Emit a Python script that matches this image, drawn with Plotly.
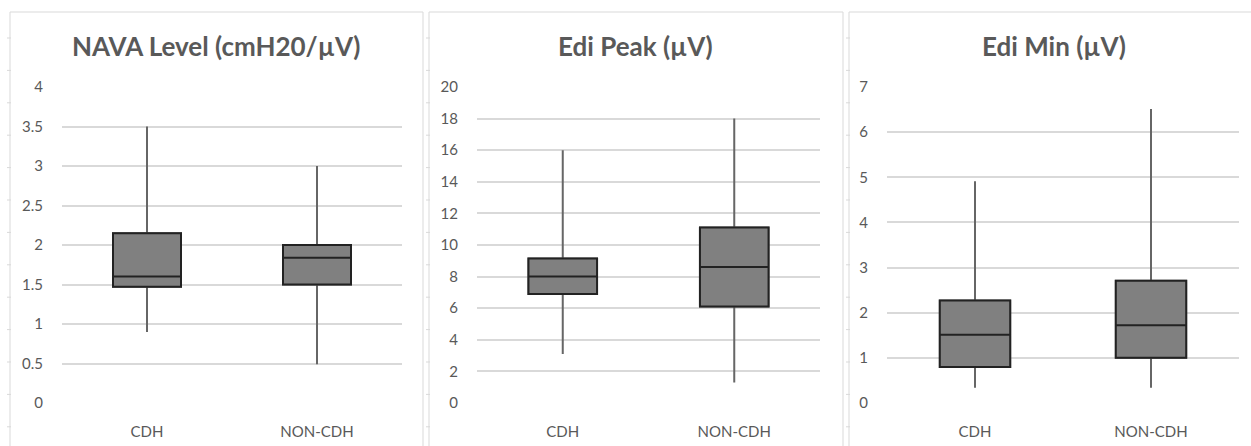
import plotly.graph_objects as go

W, H = 1251, 446

categories = ["CDH", "NON-CDH"]
titles = ["NAVA Level (cmH20/µV)", "Edi Peak (µV)", "Edi Min (µV)"]

# per-panel box statistics [CDH, NON-CDH]
nava_lower = [0.90, 0.49]
nava_q1 = [1.47, 1.50]
nava_median = [1.60, 1.84]
nava_q3 = [2.15, 2.00]
nava_upper = [3.50, 3.00]

peak_lower = [3.1, 1.3]
peak_q1 = [6.9, 6.1]
peak_median = [8.0, 8.6]
peak_q3 = [9.15, 11.1]
peak_upper = [16.0, 18.0]

min_lower = [0.34, 0.34]
min_q1 = [0.80, 1.00]
min_median = [1.51, 1.72]
min_q3 = [2.27, 2.71]
min_upper = [4.91, 6.51]

y_ranges = [[0, 4], [0, 20], [0, 7]]
y_dticks = [0.5, 2, 1]

panels = [
    (nava_lower, nava_q1, nava_median, nava_q3, nava_upper),
    (peak_lower, peak_q1, peak_median, peak_q3, peak_upper),
    (min_lower, min_q1, min_median, min_q3, min_upper),
]

# layout geometry (pixels)
plot_x = [(62, 402), (477, 820), (887, 1239)]
plot_y = (87, 403)
frames = [(10, 423), (429, 843), (849, 1259)]

GRAY_TXT = "#595959"
GRID = "#d9d9d9"
FILL = "#808080"

fig = go.Figure()

for i, (lo, q1, med, q3, up) in enumerate(panels):
    ax = "" if i == 0 else str(i + 1)
    # whiskers (gray)
    fig.add_trace(go.Box(
        x=categories, q1=q1, median=med, q3=q3, lowerfence=lo, upperfence=up,
        xaxis="x" + ax, yaxis="y" + ax,
        fillcolor=FILL, line=dict(color="#666666", width=2),
        whiskerwidth=0, width=0.4, boxpoints=False, hoverinfo="skip",
        showlegend=False,
    ))
    # box outline (dark)
    fig.add_trace(go.Box(
        x=categories, q1=q1, median=med, q3=q3, lowerfence=q1, upperfence=q3,
        xaxis="x" + ax, yaxis="y" + ax,
        fillcolor=FILL, line=dict(color="#222222", width=2),
        whiskerwidth=0, width=0.4, boxpoints=False,
        showlegend=False,
    ))

layout = dict(
    template="none",
    width=W, height=H, autosize=False,
    margin=dict(l=0, r=0, t=0, b=0, pad=0),
    paper_bgcolor="white", plot_bgcolor="white",
    boxmode="overlay",
    font=dict(family="Lato, 'Open Sans', sans-serif", color=GRAY_TXT),
    shapes=[], annotations=[],
)

for i in range(3):
    ax = "" if i == 0 else str(i + 1)
    x0, x1 = plot_x[i]
    layout["xaxis" + ax] = dict(
        domain=[x0 / W, x1 / W], anchor="y" + ax,
        type="category", range=[-0.5, 1.5], automargin=False,
        showgrid=False, zeroline=False, showline=False,
        ticks="outside", ticklen=15, tickcolor="rgba(0,0,0,0)",
        tickfont=dict(size=15, color=GRAY_TXT),
    )
    layout["yaxis" + ax] = dict(
        domain=[1 - plot_y[1] / H, 1 - plot_y[0] / H], anchor="x" + ax,
        range=y_ranges[i], dtick=y_dticks[i], tick0=0, automargin=False,
        showgrid=True, gridcolor=GRID, gridwidth=2,
        zeroline=False, showline=False,
        ticks="outside", ticklen=15, tickcolor="rgba(0,0,0,0)",
        tickfont=dict(size=15, color=GRAY_TXT),
    )
    fx0, fx1 = frames[i]
    layout["shapes"].append(dict(
        type="rect", xref="paper", yref="paper",
        x0=fx0 / W, x1=fx1 / W, y0=-0.05, y1=1 - 12 / H,
        line=dict(color=GRID, width=1), fillcolor="rgba(0,0,0,0)", layer="below",
    ))
    # small spreadsheet-style row markers along frame edge
    for k in range(13):
        yy = 38 + 32.4 * k
        if yy > H:
            break
        layout["shapes"].append(dict(
            type="line", xref="paper", yref="paper",
            x0=(fx0 - 3) / W, x1=(fx0 + 1) / W,
            y0=1 - yy / H, y1=1 - yy / H,
            line=dict(color=GRID, width=1), layer="below",
        ))
    layout["annotations"].append(dict(
        text="<b>" + titles[i] + "</b>", xref="paper", yref="paper",
        x=(fx0 + fx1) / 2 / W, y=1 - 46 / H, xanchor="center", yanchor="middle",
        showarrow=False, font=dict(size=26, color=GRAY_TXT),
    ))

fig.update_layout(**layout)
fig.write_html(
    "out.html",
    config={"displayModeBar": False, "responsive": False},
    post_script="document.body.style.margin='0';document.body.style.overflow='hidden';",
)
